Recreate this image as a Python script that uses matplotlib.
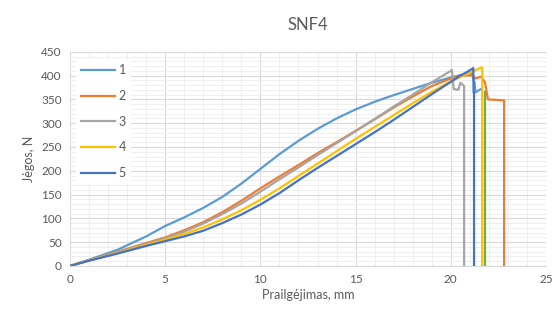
import matplotlib.pyplot as plt
from matplotlib.ticker import MultipleLocator

plt.rcParams['font.family'] = ['Lato', 'DejaVu Sans']

# 1
x1 = [0, 1, 2.5, 4, 5, 6, 7, 8, 9, 10, 11, 12, 13, 14, 15, 16, 17, 18, 19, 20,
      20.8, 21.1, 21.25, 21.3, 21.5, 21.6]
y1 = [0, 13, 34, 62, 84, 102, 122, 145, 173, 204, 235, 263, 288, 310, 329, 345, 359, 372, 385, 396,
      404, 404, 385, 365, 370, 372]
# 2
x2 = [0, 1, 2.5, 4, 5, 6, 7, 8, 9, 10, 11, 12, 13, 14, 15, 16, 17, 18, 19, 20,
      20.6, 21.1, 21.3, 21.6, 21.8, 21.95, 22.8, 22.8]
y2 = [0, 12, 30, 48, 60, 75, 92, 113, 137, 163, 188, 212, 237, 260, 284, 308, 333, 356, 378, 394,
      400, 401, 394, 398, 385, 350, 348, 0]
# 3
x3 = [0, 1, 2.5, 4, 5, 6, 7, 8, 9, 10, 11, 12, 13, 14, 15, 16, 17, 18, 19, 20,
      20.05, 20.1, 20.15, 20.4, 20.5, 20.65, 20.7, 20.7]
y3 = [0, 12, 29, 46, 58, 72, 89, 109, 131, 156, 182, 207, 233, 258, 283, 309, 335, 360, 386, 410,
      412, 395, 372, 370, 385, 380, 378, 0]
# 4
x4 = [0, 1, 2.5, 4, 5, 6, 7, 8, 9, 10, 11, 12, 13, 14, 15, 16, 17, 18, 19, 20,
      21, 21.6, 21.65, 21.65]
y4 = [0, 11, 27, 44, 55, 67, 81, 98, 117, 139, 163, 189, 215, 241, 267, 292, 317, 342, 366, 388,
      406, 417, 417, 0]
# 5
x5 = [0, 1, 2.5, 4, 5, 6, 7, 8, 9, 10, 11, 12, 13, 14, 15, 16, 17, 18, 19, 20,
      20.5, 21, 21.18, 21.2, 21.22, 21.22]
y5 = [0, 11, 26, 42, 52, 62, 74, 90, 108, 129, 153, 180, 206, 231, 256, 281, 307, 334, 361, 387,
      400, 411, 416, 364, 364, 0]
# extra series (not in legend)
x6 = [21.78, 21.78]
y6 = [366, 0]

series = [(x1, y1, '1', '#5B9BD5'), (x2, y2, '2', '#ED7D31'), (x3, y3, '3', '#A5A5A5'),
          (x4, y4, '4', '#FFC000'), (x5, y5, '5', '#4472C4')]

fig = plt.figure(figsize=(5.6, 3.2), dpi=100)
ax = fig.add_axes([0.125, 0.169, 0.85, 0.669])

ax.plot(x6, y6, color='#70AD47', lw=1.6, zorder=2)
for xs, ys, lab, col in series:
    ax.plot(xs, ys, color=col, lw=1.6, label=lab, zorder=3)

ax.set_xlim(0, 25)
ax.set_ylim(0, 450)
ax.xaxis.set_major_locator(MultipleLocator(5))
ax.xaxis.set_minor_locator(MultipleLocator(1))
ax.yaxis.set_major_locator(MultipleLocator(50))
ax.yaxis.set_minor_locator(MultipleLocator(10))
ax.grid(which='major', color='#D9D9D9', lw=0.8)
ax.grid(which='minor', color='#EDEDED', lw=0.6)
ax.set_axisbelow(True)
ax.tick_params(which='both', length=0, colors='#595959', labelsize=8.5, pad=6)
for s in ['top', 'right', 'left']:
    ax.spines[s].set_visible(False)
ax.spines['bottom'].set_color('#D9D9D9')

ax.set_xlabel('Prailgėjimas, mm', color='#595959', fontsize=9, labelpad=3)
ax.set_ylabel('Jėgos, N', color='#595959', fontsize=9, labelpad=4)
ax.set_title('SNF4', color='#595959', fontsize=12, pad=16)

leg = ax.legend(loc='upper left', bbox_to_anchor=(0.0, 0.995), frameon=True, fontsize=9,
                handlelength=2.7, labelspacing=1.1, handletextpad=0.3, borderpad=0.4)
leg.get_frame().set_edgecolor('none')
leg.get_frame().set_facecolor('white')
leg.get_frame().set_alpha(1)
for t in leg.get_texts():
    t.set_color('#595959')

fig.savefig('out.png')
